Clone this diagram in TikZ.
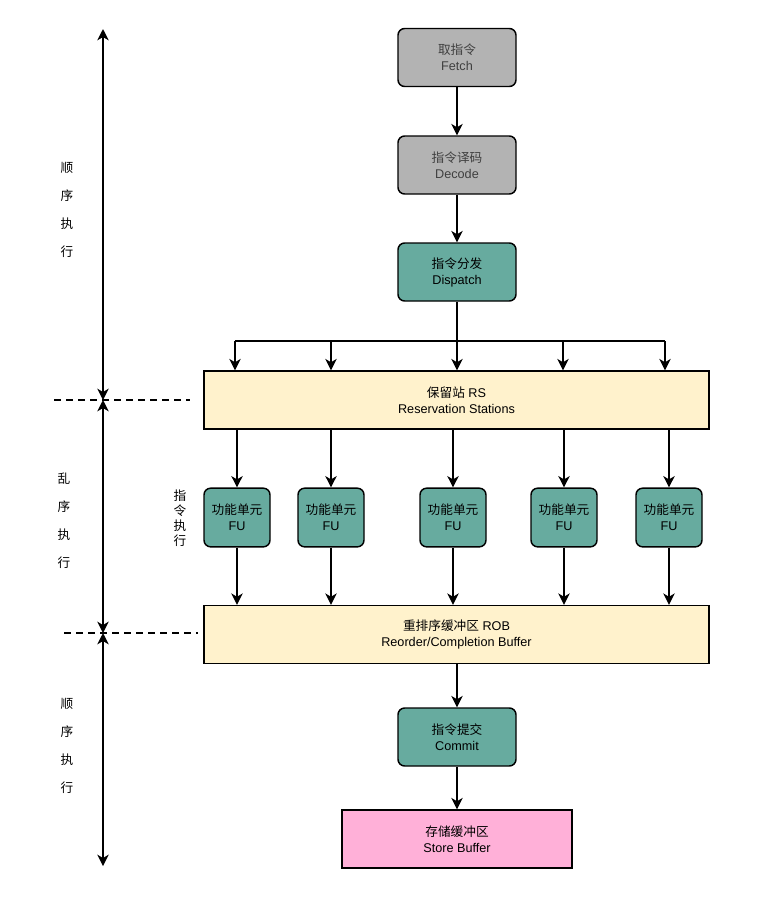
\documentclass[tikz,border=0pt]{standalone}
\usepackage{fontspec}
\setmainfont{Liberation Sans}
\newfontfamily\cjk{Noto Sans CJK SC}
\usetikzlibrary{arrows.meta}

\definecolor{stagegray}{HTML}{B3B3B3}
\definecolor{stageteal}{HTML}{67AB9F}
\definecolor{bufyellow}{HTML}{FFF2CC}
\definecolor{bufpink}{HTML}{FFB0D8}

\tikzset{
  stage/.style={draw,line width=1.1pt,rounded corners=5pt,align=center,
    minimum width=88.5pt,minimum height=43.5pt,inner sep=1pt,
    font=\fontsize{9.5}{12}\selectfont},
  graystage/.style={stage,fill=stagegray,text=black!75},
  tealstage/.style={stage,fill=stageteal},
  fubox/.style={stage,fill=stageteal,minimum width=49.5pt,minimum height=44pt},
  bufbox/.style={draw,line width=1.1pt,align=center,inner sep=1pt,
    minimum height=43.5pt,font=\fontsize{9.5}{12}\selectfont},
  phase/.style={align=center,font=\cjk\fontsize{9.5}{21}\selectfont},
  flow/.style={->,line width=1.1pt},
}

\begin{document}
\begin{tikzpicture}[x=0.75pt,y=-0.75pt,>={Stealth[length=8.5pt,width=8.5pt,inset=2.5pt]}]
\useasboundingbox (0,0) rectangle (776,915);
% ================= in-order front end =================
\node[graystage] (fetch)    at (457,57.5) {{\cjk 取指令}\\Fetch};
\node[graystage] (decode)   at (457,165)  {{\cjk 指令译码}\\Decode};
\node[tealstage] (dispatch) at (457,272)  {{\cjk 指令分发}\\Dispatch};
\draw[flow] (fetch) -- (decode);
\draw[flow] (decode) -- (dispatch);
% reservation stations and issue bus
\node[bufbox,fill=bufyellow,minimum width=378.75pt] (rs) at (456.5,400)
  {{\cjk 保留站} RS\\Reservation Stations};
\coordinate (bus) at (457,341);
\draw[line width=1.1pt] (dispatch.south) -- (bus);
\draw[line width=1.1pt] (235,341) -- (665,341);
\foreach \x [count=\i] in {235,331,457,563,665}{
  \coordinate (b\i) at (\x,341);
  \draw[flow] (b\i) -- (b\i |- rs.north);
}
% ================= out-of-order core =================
\node[bufbox,fill=bufyellow,minimum width=378.75pt] (rob) at (456.5,634.5)
  {{\cjk 重排序缓冲区} ROB\\Reorder/Completion Buffer};
\foreach \x [count=\i] in {237,331,453,564,669}{
  \node[fubox] (fu\i) at (\x,517.5) {\cjk 功能单元\\FU};
  \draw[flow] (fu\i |- rs.south) -- (fu\i.north);
  \draw[flow] (fu\i.south) -- (fu\i |- rob.north);
}
\node[phase,font=\cjk\fontsize{9.5}{11.3}\selectfont] (exec) at (180,518)
  {指\\令\\执\\行};
% ================= in-order commit =================
\node[tealstage] (commit) at (457,737) {{\cjk 指令提交}\\Commit};
\node[bufbox,fill=bufpink,minimum width=172.5pt] (store) at (457,839)
  {{\cjk 存储缓冲区}\\Store Buffer};
\draw[flow] (rob.south -| commit) -- (commit);
\draw[flow] (commit) -- (store);
% ================= phase markers =================
\coordinate (p0) at (103,29);
\coordinate (p1) at (103,400);
\coordinate (p2) at (103,633);
\coordinate (p3) at (103,866);
\draw[<->,line width=1.1pt] (p0) -- (p1);
\draw[<->,line width=1.1pt] (p1) -- (p2);
\draw[<->,line width=1.1pt] (p2) -- (p3);
\draw[dashed,line width=1pt,dash pattern=on 5pt off 4pt] (54,400) -- (190,400);
\draw[dashed,line width=1pt,dash pattern=on 5pt off 4pt] (64,633) -- (198,633);
\node[phase] (inorder1) at (67,210) {顺\\序\\执\\行};
\node[phase] (ooo)      at (64,521) {乱\\序\\执\\行};
\node[phase] (inorder2) at (67,746) {顺\\序\\执\\行};
\end{tikzpicture}
\end{document}
